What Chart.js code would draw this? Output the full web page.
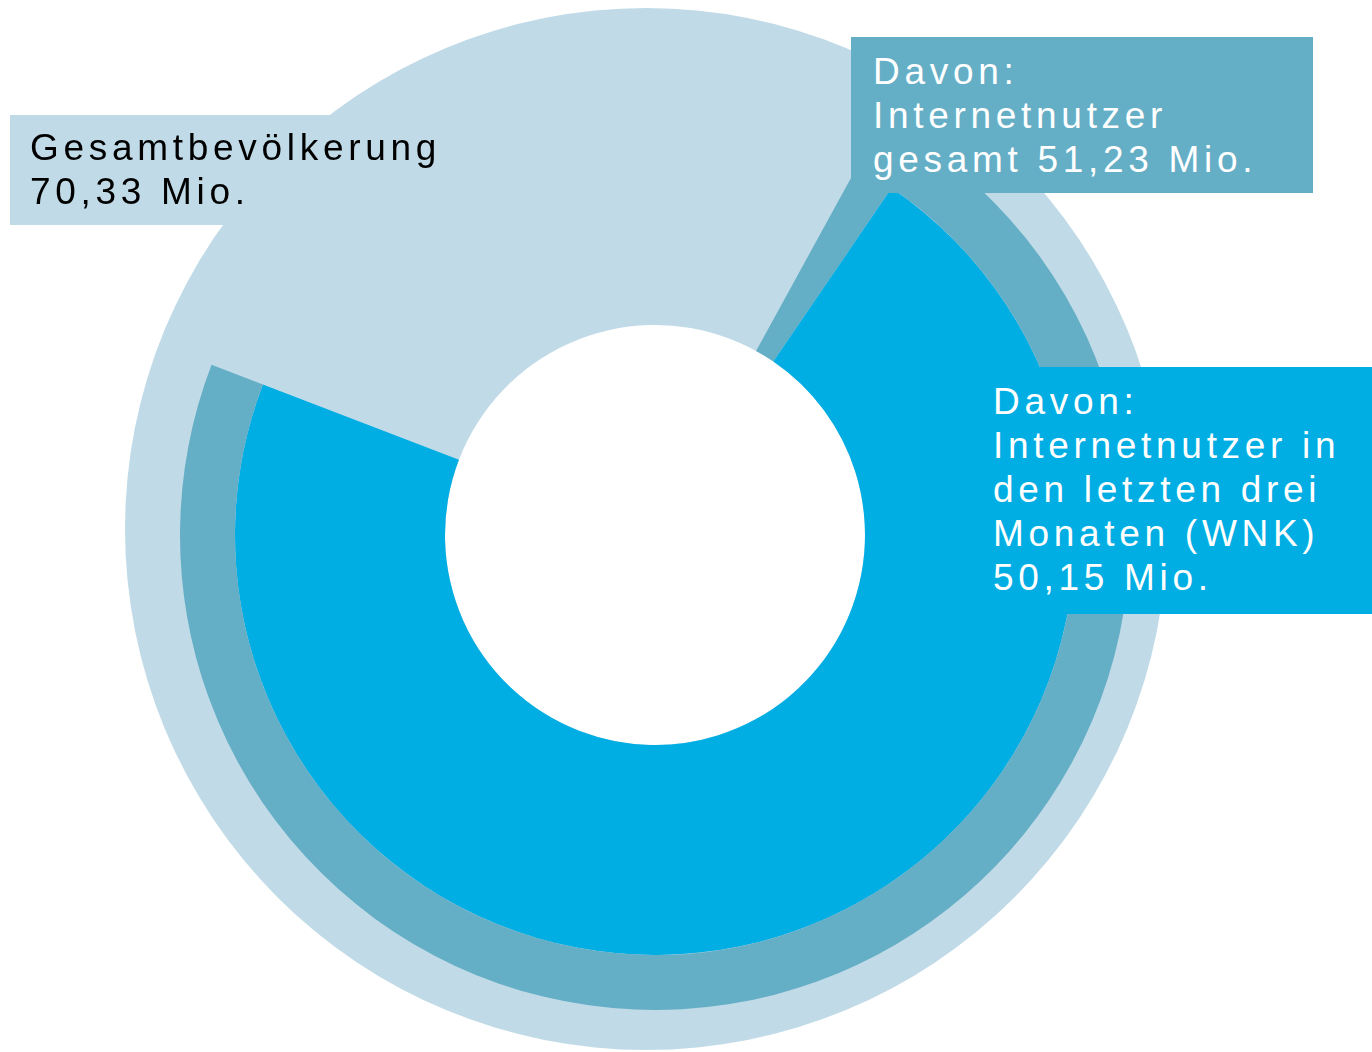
<!DOCTYPE html>
<html lang="de">
<head>
<meta charset="utf-8">
<title>Internetnutzer</title>
<script src="https://cdn.jsdelivr.net/npm/chart.js@4/dist/chart.umd.min.js"></script>
<style>
  html, body { margin: 0; padding: 0; background: #fff; overflow: hidden; }
  #wrap { position: relative; width: 1372px; height: 1052px; }
  canvas { position: absolute; left: 0; top: 0; }
  .label {
    position: absolute;
    box-sizing: border-box;
    font-family: "Liberation Sans", Arial, sans-serif;
    font-size: 37px;
    line-height: 44px;
    letter-spacing: 4.7px;
    white-space: nowrap;
  }
</style>
</head>
<body>
<div id="wrap">
  <canvas id="outerChart" width="1372" height="1052"></canvas>
  <canvas id="innerChart" width="1372" height="1052"></canvas>
  <div class="label" id="lblTotal" style="left:10px;top:115px;width:325px;height:110px;padding:11px 0 0 20px;background:#c0dbe7;color:#000;"></div>
  <div class="label" id="lblInternet" style="left:851px;top:37px;width:462px;height:156px;padding:13px 0 0 22px;background:#64aec6;color:#fff;"></div>
  <div class="label" id="lblRecent" style="left:975px;top:367px;width:397px;height:247px;padding:13px 0 0 18px;background:#00aee4;color:#fff;"></div>
</div>
<script>
// values in Mio.
const categories = ['Gesamtbevölkerung', 'Internetnutzer gesamt', 'Internetnutzer in den letzten drei Monaten (WNK)'];
const population = [70.33];
const internetTotal = [51.23];
const internetRecent = [50.15];

const labelLines = [
  ['Gesamtbevölkerung', '70,33 Mio.'],
  ['Davon:', 'Internetnutzer', 'gesamt 51,23 Mio.'],
  ['Davon:', 'Internetnutzer in', 'den letzten drei', 'Monaten (WNK)', '50,15 Mio.']
];

const colLight = '#c0dbe7';
const colMid = '#64aec6';
const colBright = '#00aee4';
const none = 'rgba(0,0,0,0)';

// labels
['lblTotal', 'lblInternet', 'lblRecent'].forEach((id, i) => {
  document.getElementById(id).innerHTML = labelLines[i].join('<br>');
});

const noPlugins = { legend: { display: false }, tooltip: { enabled: false } };

// Total population - full light disc (sits a bit up/left of the rings)
new Chart(document.getElementById('outerChart'), {
  type: 'pie',
  data: {
    labels: [categories[0]],
    datasets: [{
      data: population,
      backgroundColor: [colLight],
      borderWidth: 0
    }]
  },
  options: {
    responsive: false,
    animation: false,
    radius: 521,
    layout: { padding: { top: 6, right: 80 } },
    plugins: noPlugins
  }
});

// Internet users - rings, both ending at the same angle
const rest = population[0] - internetTotal[0];
const gap = internetTotal[0] - internetRecent[0];

new Chart(document.getElementById('innerChart'), {
  type: 'doughnut',
  data: {
    labels: ['Rest', categories[1], categories[2]],
    datasets: [
      {
        // outer band of "Internetnutzer gesamt"
        data: [rest, internetTotal[0]],
        backgroundColor: [none, colMid],
        weight: 55
      },
      {
        // inner band: gesamt minus WNK, then WNK
        data: [rest, gap, internetRecent[0]],
        backgroundColor: [none, colMid, colBright],
        weight: 210
      },
      {
        // white hole in the middle
        data: [1],
        backgroundColor: ['#ffffff'],
        weight: 210
      }
    ]
  },
  options: {
    responsive: false,
    animation: false,
    radius: 475,
    cutout: 0,
    rotation: 291,
    borderWidth: 0,
    elements: { arc: { borderWidth: 0 } },
    layout: { padding: { top: 18, right: 62 } },
    plugins: noPlugins
  }
});
</script>
</body>
</html>
